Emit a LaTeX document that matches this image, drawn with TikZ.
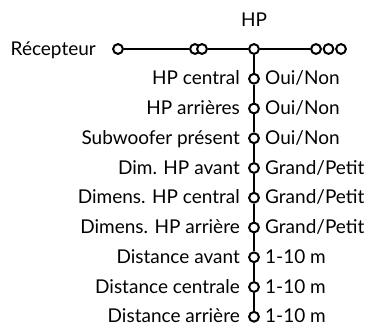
\documentclass[tikz,border=0pt]{standalone}
\usepackage{fontspec}
\setmainfont{Lato}
\usetikzlibrary{positioning}

\tikzset{
  stop/.style={circle,draw,line width=2pt,fill=white,minimum size=9.8pt,inner sep=0pt},
  wire/.style={line width=2pt},
  lbl/.style={font=\fontsize{19}{21}\selectfont,inner sep=0pt},
}

\begin{document}
\begin{tikzpicture}[x=1pt,y=-1pt]
  \useasboundingbox (0,0) rectangle (371,329);
  % horizontal menu bar
  \node[stop] (rec) at (118,49) {};
  \node[stop] (d1) at (195,49) {};
  \node[stop] (d2) at (202,49) {};
  \node[stop] (hp) at (254,49) {};
  \node[stop] (t1) at (316,49) {};
  \node[stop] (t2) at (328.5,49) {};
  \node[stop] (t3) at (341,49) {};
  \draw[wire] (rec) -- (d1);
  \draw[wire] (d2) -- (hp);
  \draw[wire] (hp) -- (t1);
  \node[lbl,anchor=base east] (recl) at (96,55) {Récepteur};
  \node[lbl,anchor=base] (hpl) at (254,27) {HP};
  % vertical submenu
  \foreach \i/\l/\r in {1/HP central/Oui\slash Non,
                        2/HP arrières/Oui\slash Non,
                        3/Subwoofer présent/Oui\slash Non,
                        4/Dim. HP avant/Grand\slash Petit,
                        5/Dimens. HP central/Grand\slash Petit,
                        6/Dimens. HP arrière/Grand\slash Petit,
                        7/Distance avant/1-10 m,
                        8/Distance centrale/1-10 m,
                        9/Distance arrière/1-10 m} {
    \node[stop] (r\i) at (254,{49+29.75*\i}) {};
    \node[lbl,anchor=base east] (l\i) at (240,{55+29.75*\i}) {\l};
    \node[lbl,anchor=base west] (v\i) at (265,{55+29.75*\i}) {\r};
  }
  \draw[wire] (hp) -- (r1);
  \foreach \i [evaluate=\i as \j using int(\i+1)] in {1,...,8}
    \draw[wire] (r\i) -- (r\j);
\end{tikzpicture}
\end{document}
